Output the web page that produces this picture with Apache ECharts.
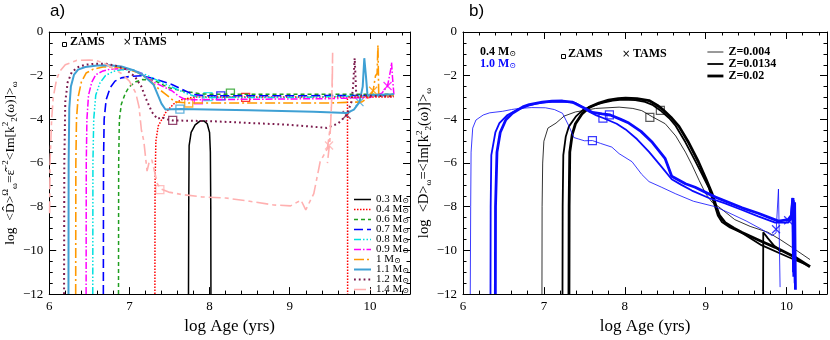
<!DOCTYPE html>
<html>
<head>
<meta charset="utf-8">
<script src="https://cdn.jsdelivr.net/npm/echarts@6/dist/echarts.min.js"></script>
<style>
  html, body { margin: 0; padding: 0; background: #fff; }
  #chart { width: 830px; height: 340px; }
</style>
</head>
<body>
<div id="chart"></div>
<script>
// ---- panel a) : log <D> vs log age for each mass ----
const masses = ['0.3', '0.4', '0.6', '0.7', '0.8', '0.9', '1', '1.1', '1.2', '1.4'];

const m03 = [[7.737,-12],[7.74,-8],[7.745,-5.2],[7.77,-4.6],[7.82,-4.25],[7.88,-4.08],[7.93,-4.07],[7.97,-4.2],[8.0,-4.6],[8.01,-5.5],[8.015,-8],[8.017,-12]];
const m04 = [[7.318,-12],[7.32,-7],[7.33,-5],[7.36,-4.3],[7.45,-3.7],[7.55,-3.3],[7.65,-3.1],[7.8,-2.98],[8.5,-2.98],[9.0,-2.98],[9.5,-2.98],[9.72,-2.98],[9.722,-12]];
const m04tail = [[9.73,-2.98],[10.3,-2.97]];
const m06 = [[6.864,-12],[6.866,-6],[6.875,-4],[6.9,-3.3],[6.95,-2.8],[7.0,-2.5],[7.08,-2.28],[7.16,-2.18],[7.3,-2.2],[7.49,-2.55],[7.6,-2.65],[7.75,-2.75],[7.9,-2.84],[8.1,-2.85],[9.0,-2.85],[10.0,-2.85],[10.3,-2.85]];
const m07 = [[6.675,-12],[6.677,-6],[6.685,-4],[6.71,-3.1],[6.76,-2.55],[6.82,-2.25],[6.9,-2.1],[7.0,-2.04],[7.15,-2.0],[7.28,-2.11],[7.53,-2.4],[7.7,-2.7],[7.8,-2.86],[7.95,-2.92],[8.2,-2.92],[9.0,-2.92],[10.3,-2.9]];
const m08 = [[6.543,-12],[6.545,-6],[6.555,-4],[6.58,-2.9],[6.63,-2.35],[6.7,-2.0],[6.8,-1.8],[6.9,-1.73],[7.05,-1.74],[7.2,-1.95],[7.4,-2.3],[7.55,-2.55],[7.7,-2.8],[7.85,-2.98],[8.0,-3.0],[9.0,-3.0],[10.3,-2.9]];
const m09 = [[6.46,-12],[6.462,-6],[6.47,-4],[6.49,-2.9],[6.53,-2.3],[6.58,-1.96],[6.66,-1.8],[6.75,-1.71],[6.9,-1.68],[7.0,-1.7],[7.15,-1.9],[7.28,-2.25],[7.45,-2.55],[7.53,-2.69],[7.62,-2.95],[7.7,-3.1],[7.85,-3.1],[8.5,-3.08],[9.5,-3.05],[10.0,-3.0],[10.15,-2.8],[10.22,-2.47],[10.26,-1.7],[10.27,-1.4],[10.28,-2.0],[10.3,-2.9]];
const m10 = [[6.33,-12],[6.332,-6],[6.34,-4],[6.36,-2.99],[6.4,-2.3],[6.46,-1.88],[6.55,-1.7],[6.67,-1.6],[6.8,-1.6],[6.95,-1.66],[7.1,-1.85],[7.25,-2.2],[7.38,-2.65],[7.45,-2.84],[7.57,-3.2],[7.74,-3.25],[8.5,-3.25],[9.5,-3.25],[9.9,-3.2],[10.0,-2.95],[10.04,-2.69],[10.07,-2.0],[10.09,-1.9],[10.1,-0.6],[10.11,-2.9],[10.3,-2.9]];
const m11 = [[6.24,-12],[6.242,-6],[6.25,-3.5],[6.27,-2.5],[6.31,-1.95],[6.36,-1.72],[6.45,-1.6],[6.6,-1.53],[6.75,-1.52],[6.9,-1.58],[7.05,-1.75],[7.18,-2.0],[7.3,-2.4],[7.4,-3.28],[7.45,-3.55],[7.52,-3.54],[7.63,-3.53],[8.5,-3.58],[9.3,-3.65],[9.71,-3.71],[9.8,-3.55],[9.87,-3.21],[9.91,-2.5],[9.93,-1.2],[9.95,-2.0],[9.97,-2.9],[10.3,-2.85]];
const m12 = [[6.185,-12],[6.188,-6],[6.2,-3.2],[6.23,-2.3],[6.28,-1.85],[6.35,-1.62],[6.45,-1.5],[6.58,-1.45],[6.7,-1.45],[6.82,-1.53],[6.95,-1.7],[7.07,-2.05],[7.15,-2.5],[7.2,-3.0],[7.28,-3.66],[7.35,-3.98],[7.4,-3.9],[7.47,-4.0],[7.54,-4.05],[8.0,-4.08],[9.0,-4.25],[9.46,-4.39],[9.6,-4.2],[9.71,-3.8],[9.77,-3.2],[9.79,-2.5],[9.81,-1.2],[9.83,-2.9],[10.3,-2.95]];
const m14 = [[6.005,-8.3],[6.01,-6],[6.03,-4],[6.05,-3.0],[6.09,-2.2],[6.13,-1.81],[6.2,-1.5],[6.34,-1.3],[6.5,-1.28],[6.58,-1.3],[6.7,-1.45],[6.79,-1.66],[6.9,-1.9],[7.0,-2.25],[7.08,-2.8],[7.12,-3.43],[7.15,-4.5],[7.18,-5.0],[7.22,-6.37],[7.25,-5.9],[7.28,-5.86],[7.35,-6.96],[7.39,-7.18],[7.49,-7.33],[7.65,-7.44],[7.9,-7.55],[8.2,-7.6],[8.5,-7.75],[8.8,-7.92],[9.01,-7.96],[9.14,-7.7],[9.2,-8.14],[9.3,-7.4],[9.38,-5.93],[9.47,-5.34],[9.51,-4.2],[9.53,-2.5],[9.535,-0.95],[9.525,-3.0],[9.5,-5.0],[9.47,-6.0]];
const leftCurves = [m03, m04, m06, m07, m08, m09, m10, m11, m12, m14];

// ZAMS (squares) and TAMS (crosses), one per mass, null where not shown
const zamsLeft = [null,[8.45,-2.99],[8.26,-2.8],[8.14,-2.92],[7.98,-2.96],[7.86,-3.11],[7.74,-3.25],[7.63,-3.53],[7.54,-4.05],[7.38,-7.22]];
const tamsLeft = [null,null,null,null,null,[10.22,-2.47],[10.04,-2.69],[9.87,-3.21],[9.71,-3.8],[9.49,-5.2]];

// ---- panel b) : 0.4 and 1.0 Msun at three metallicities ----
const zNames = ['Z=0.004', 'Z=0.0134', 'Z=0.02'];

const b04z004 = [[6.976,-12],[6.978,-8],[6.985,-6],[7.0,-5.0],[7.05,-4.4],[7.15,-4.17],[7.25,-3.85],[7.39,-3.66],[7.64,-3.5],[7.93,-3.44],[8.1,-3.5],[8.21,-3.6],[8.34,-3.88],[8.5,-4.2],[8.63,-4.76],[8.75,-5.5],[8.83,-6.08],[8.92,-6.8],[9.0,-7.4],[9.08,-7.8],[9.16,-8.0],[9.36,-8.59],[9.55,-8.9],[9.77,-9.17],[9.92,-9.5],[10.06,-9.84],[10.29,-10.42]];
const b04z0134 = [[7.23,-12],[7.232,-8],[7.24,-5.64],[7.27,-4.8],[7.31,-4.32],[7.4,-3.85],[7.48,-3.58],[7.6,-3.38],[7.72,-3.24],[7.85,-3.14],[7.97,-3.1],[8.13,-3.12],[8.25,-3.2],[8.35,-3.35],[8.44,-3.59],[8.55,-3.95],[8.63,-4.3],[8.75,-5.05],[8.87,-5.9],[8.96,-6.55],[9.04,-7.15],[9.1,-7.8],[9.15,-8.4],[9.2,-8.7],[9.3,-8.95],[9.45,-9.2],[9.69,-9.76],[10.02,-10.3],[10.29,-10.72]];
const b04z02 = [[7.31,-12],[7.312,-8],[7.32,-5.5],[7.35,-4.7],[7.39,-4.2],[7.47,-3.75],[7.56,-3.45],[7.68,-3.25],[7.8,-3.12],[7.92,-3.05],[8.01,-3.03],[8.15,-3.05],[8.3,-3.14],[8.4,-3.35],[8.47,-3.55],[8.57,-3.9],[8.67,-4.32],[8.78,-5.0],[8.91,-5.94],[9.0,-6.7],[9.08,-7.41],[9.13,-8.0],[9.17,-8.4],[9.24,-8.73],[9.35,-8.98],[9.45,-9.18],[9.7,-9.6],[9.86,-9.86],[10.1,-10.3],[10.29,-10.75]];
const b04branch = [[9.71,-12],[9.712,-9.17],[9.77,-9.45],[9.85,-9.8],[9.93,-10.05]];
const b04Curves = [b04z004, b04z0134, b04z02];

const b10z004 = [[6.09,-12],[6.095,-8],[6.1,-5.5],[6.12,-4.4],[6.16,-4.03],[6.25,-3.8],[6.33,-3.7],[6.49,-3.63],[6.6,-3.55],[6.69,-3.5],[6.85,-3.46],[7.02,-3.47],[7.13,-3.55],[7.23,-3.72],[7.31,-4.31],[7.37,-4.83],[7.43,-4.9],[7.5,-4.98],[7.6,-4.97],[7.7,-5.1],[7.84,-5.27],[7.93,-5.57],[8.09,-5.94],[8.21,-6.52],[8.3,-6.85],[8.45,-7.1],[8.63,-7.41],[8.85,-7.75],[9.12,-8.0],[9.3,-8.3],[9.5,-8.65],[9.69,-9.03],[9.82,-9.32],[9.87,-9.2],[9.9,-7.19],[9.92,-11.68]];
const b10z0134 = [[6.34,-12],[6.342,-8],[6.35,-5.64],[6.4,-4.6],[6.45,-4.17],[6.55,-3.8],[6.66,-3.58],[6.8,-3.38],[6.9,-3.28],[7.05,-3.2],[7.15,-3.17],[7.3,-3.2],[7.39,-3.25],[7.48,-3.45],[7.56,-3.65],[7.65,-3.82],[7.74,-3.95],[7.9,-4.2],[8.01,-4.46],[8.15,-4.9],[8.3,-5.49],[8.45,-6.15],[8.58,-6.74],[8.7,-7.0],[8.83,-7.26],[9.04,-7.6],[9.24,-7.85],[9.45,-8.15],[9.65,-8.44],[9.86,-8.73],[10.02,-8.73],[10.05,-8.6],[10.07,-7.6],[10.08,-11.0],[10.09,-7.7],[10.1,-11.5]];
const b10z02 = [[6.4,-12],[6.402,-8],[6.42,-5.5],[6.46,-4.6],[6.53,-4.02],[6.61,-3.72],[6.74,-3.43],[6.82,-3.32],[6.98,-3.21],[7.1,-3.17],[7.23,-3.16],[7.35,-3.21],[7.51,-3.5],[7.6,-3.68],[7.72,-3.75],[7.82,-3.8],[7.95,-4.0],[8.05,-4.17],[8.2,-4.55],[8.34,-5.05],[8.5,-5.8],[8.58,-6.6],[8.75,-6.95],[8.87,-7.11],[9.12,-7.56],[9.45,-8.05],[9.65,-8.3],[9.9,-8.66],[10.02,-8.59],[10.06,-8.4],[10.08,-7.6],[10.09,-11.2],[10.1,-7.8],[10.11,-11.8]];
const b10Curves = [b10z004, b10z0134, b10z02];

const zamsB04 = [[8.31,-3.91],[8.44,-3.59]];
const zamsB10 = [[7.6,-4.97],[7.73,-3.94],[7.81,-3.79]];
const tamsB10 = [[9.87,-9.03],[10.02,-8.62]];

// ---- styles ----
const FONT = '"Liberation Serif", "DejaVu Serif", serif';
const leftColors = ['#000000','#ff0000','#1f9e1f','#0000ff','#00e0e0','#ff00ff','#ff9900','#3fa0d4','#7b1b4d','#ffb0b0'];
const leftDash = ['solid','dotted',[4,3],[9,4],[7,2,1.5,2,1.5,2,1.5,2],[7,2,1.5,2],[10,3,2,3],'solid',[1.8,3],[12,4,4,4]];
const leftWidth = [1.5,1.5,1.5,1.6,1.5,1.5,1.6,2,2,1.6];
const zWidths = [0.8, 1.8, 2.8];
const BLUE = '#0a0aff';
const CROSS = 'path://M0,0L10,10M10,0L0,10';

function xAxisOf(gi, pos, main) {
    return {
        gridIndex: gi, type: 'value', position: pos, min: 6, max: 10.5, interval: 1,
        axisLine: { show: true, onZero: false, lineStyle: { color: '#000', width: 1 } },
        axisTick: { show: true, inside: true, length: 7, customValues: [6,7,8,9,10], lineStyle: { color: '#000' } },
        minorTick: { show: true, splitNumber: 5, length: 3.5, lineStyle: { color: '#000' } },
        splitLine: { show: false },
        axisLabel: { show: main, margin: 6, customValues: [6,7,8,9,10], fontFamily: FONT, fontSize: 13, color: '#000' },
        name: main ? 'log Age (yrs)' : '',
        nameLocation: 'middle', nameGap: 21,
        nameTextStyle: { fontFamily: FONT, fontSize: 17, color: '#000' },
    }
}
function yAxisOf(gi, pos, main, rich, size) {
    return {
        gridIndex: gi, type: 'value', position: pos, min: -12, max: 0, interval: 2,
        axisLine: { show: true, onZero: false, lineStyle: { color: '#000', width: 1 } },
        axisTick: { show: true, inside: true, length: 7, lineStyle: { color: '#000' } },
        minorTick: { show: true, splitNumber: 4, length: 3.5, lineStyle: { color: '#000' } },
        splitLine: { show: false },
        axisLabel: {
            show: main, margin: 6, fontFamily: FONT, fontSize: 13, color: '#000',
            formatter: v => (v < 0 ? '\u2212' + (-v) : String(v)),
        },
        name: main ? rich : '',
        nameLocation: 'middle', nameGap: 30,
        nameTextStyle: {
            color: '#000',
            rich: {
                t: { fontFamily: FONT, fontSize: size || 14, lineHeight: 18, color: '#000' },
                p: { fontFamily: FONT, fontSize: 9, lineHeight: 9, verticalAlign: 'top', color: '#000' },
                b: { fontFamily: FONT, fontSize: 9, lineHeight: 9, verticalAlign: 'bottom', color: '#000' },
            },
        },
    }
}

const series = []
leftCurves.forEach((d, i) => {
    series.push({
        name: masses[i], type: 'line', xAxisIndex: 0, yAxisIndex: 0, data: d,
        symbol: 'none', animation: false,
        lineStyle: { color: leftColors[i], width: leftWidth[i], type: leftDash[i] },
        itemStyle: { color: leftColors[i] },
    })
})
series.push({
    name: '0.4', type: 'line', xAxisIndex: 0, yAxisIndex: 0, data: m04tail, symbol: 'none', animation: false,
    lineStyle: { color: leftColors[1], width: leftWidth[1], type: leftDash[1] },
})
series.push({
    name: 'ZAMS a', type: 'scatter', xAxisIndex: 0, yAxisIndex: 0, symbol: 'rect', symbolSize: 8, animation: false,
    data: zamsLeft.map((p, i) => p && { value: p, itemStyle: { color: 'transparent', borderColor: leftColors[i], borderWidth: 1.3 } }).filter(Boolean),
})
series.push({
    name: 'TAMS a', type: 'scatter', xAxisIndex: 0, yAxisIndex: 0, symbol: CROSS, symbolSize: 8, animation: false,
    data: tamsLeft.map((p, i) => p && { value: p, itemStyle: { color: 'transparent', borderColor: leftColors[i], borderWidth: 1.3 } }).filter(Boolean),
})

b04Curves.forEach((d, i) => {
    series.push({
        name: zNames[i], type: 'line', xAxisIndex: 2, yAxisIndex: 2, data: d, symbol: 'none', animation: false,
        lineStyle: { color: '#000', width: zWidths[i] }, itemStyle: { color: '#000' },
    })
})
series.push({
    name: 'Z=0.0134', type: 'line', xAxisIndex: 2, yAxisIndex: 2, data: b04branch, symbol: 'none', animation: false,
    lineStyle: { color: '#000', width: 1.8 },
})
b10Curves.forEach((d, i) => {
    series.push({
        name: '1.0 ' + zNames[i], type: 'line', xAxisIndex: 2, yAxisIndex: 2, data: d, symbol: 'none', animation: false,
        lineStyle: { color: BLUE, width: zWidths[i] }, itemStyle: { color: BLUE },
    })
})
series.push({
    name: 'ZAMS b', type: 'scatter', xAxisIndex: 2, yAxisIndex: 2, symbol: 'rect', symbolSize: 8, animation: false,
    itemStyle: { color: 'transparent', borderColor: '#333', borderWidth: 1.2 }, data: zamsB04,
})
series.push({
    name: 'ZAMS b blue', type: 'scatter', xAxisIndex: 2, yAxisIndex: 2, symbol: 'rect', symbolSize: 8, animation: false,
    itemStyle: { color: 'transparent', borderColor: BLUE, borderWidth: 1.2 }, data: zamsB10,
})
series.push({
    name: 'TAMS b', type: 'scatter', xAxisIndex: 2, yAxisIndex: 2, symbol: CROSS, symbolSize: 8, animation: false,
    itemStyle: { color: 'transparent', borderColor: BLUE, borderWidth: 1.2 }, data: tamsB10,
})

const labelFont = 'bold 12px ' + FONT
const msunRich = {
    a: { fontFamily: FONT, fontSize: 12, fontWeight: 'bold' },
    s: { fontFamily: FONT, fontSize: 8, verticalAlign: 'bottom', lineHeight: 8 },
}
// hide the round marker ECharts puts in the middle of line legend icons
const noSymbol = { color: 'transparent', borderColor: 'transparent', opacity: 0 }

const option = {
    backgroundColor: '#fff',
    animation: false,
    grid: [
        { left: 46, top: 32, width: 364, height: 272 },
        { left: 463, top: 32, width: 364, height: 272 },
    ],
    xAxis: [xAxisOf(0, 'bottom', true), xAxisOf(0, 'top', false), xAxisOf(1, 'bottom', true), xAxisOf(1, 'top', false)],
    yAxis: [
        yAxisOf(0, 'left', true, '{t|log  <D\u0302>}{p|\u03a9}{b|\u03c9}{t|=\u03b5\u0302}{p|\u22122}{t|<Im[k}{p|2}{b|2}{t|(\u03c9)]>}{b|\u03c9}', 13.5),
        yAxisOf(0, 'right', false),
        yAxisOf(1, 'left', true, '{t|log  <D>}{b|\u03c9}{t|=<Im[k}{p|2}{b|2}{t|(\u03c9)]>}{b|\u03c9}', 14.5),
        yAxisOf(1, 'right', false),
    ],
    legend: [
        {
            data: masses, orient: 'vertical', left: 348, top: 189, selectedMode: false,
            itemWidth: 17, itemHeight: 10, itemGap: -1,
            itemStyle: noSymbol,
            lineStyle: { width: 'inherit' },
            textStyle: {
                color: '#000',
                rich: {
                    a: { fontFamily: FONT, fontSize: 11, lineHeight: 10, color: '#000' },
                    s: { fontFamily: FONT, fontSize: 8, lineHeight: 8, verticalAlign: 'bottom', color: '#000' },
                },
            },
            formatter: n => '{a|' + n + ' M}{s|\u2299}',
        },
        {
            data: zNames, orient: 'vertical', left: 701, top: 41, selectedMode: false,
            itemWidth: 16, itemHeight: 11, itemGap: 0,
            itemStyle: noSymbol,
            lineStyle: { width: 'inherit' },
            textStyle: { fontFamily: FONT, fontSize: 12, fontWeight: 'bold', color: '#000', lineHeight: 11 },
        },
    ],
    graphic: [
        { type: 'text', left: 50, top: 3, style: { text: 'a)', font: '17px "Liberation Sans", sans-serif', fill: '#000' } },
        { type: 'text', left: 469, top: 3, style: { text: 'b)', font: '17px "Liberation Sans", sans-serif', fill: '#000' } },
        { type: 'rect', left: 60, top: 40, shape: { x: 0, y: 0, width: 4, height: 4 }, style: { fill: 'none', stroke: '#000', lineWidth: 1 } },
        { type: 'text', left: 70, top: 36, style: { text: 'ZAMS', font: labelFont, fill: '#000' } },
        { type: 'text', left: 123, top: 37, style: { text: '\u00d7', font: '10px "DejaVu Sans"', fill: '#000' } },
        { type: 'text', left: 133, top: 36, style: { text: 'TAMS', font: labelFont, fill: '#000' } },
        { type: 'rect', left: 559, top: 52, shape: { x: 0, y: 0, width: 4, height: 4 }, style: { fill: 'none', stroke: '#000', lineWidth: 1 } },
        { type: 'text', left: 568, top: 48, style: { text: 'ZAMS', font: labelFont, fill: '#000' } },
        { type: 'text', left: 622, top: 49, style: { text: '\u00d7', font: '10px "DejaVu Sans"', fill: '#000' } },
        { type: 'text', left: 633, top: 48, style: { text: 'TAMS', font: labelFont, fill: '#000' } },
        { type: 'text', left: 480, top: 46, style: { text: '{a|0.4 M}{s|\u2299}', rich: msunRich, fill: '#000' } },
        { type: 'text', left: 480, top: 58, style: { text: '{a|1.0 M}{s|\u2299}', rich: msunRich, fill: BLUE } },
    ],
    series: series,
}

const chart = echarts.init(document.getElementById('chart'))
chart.setOption(option)
</script>
</body>
</html>
